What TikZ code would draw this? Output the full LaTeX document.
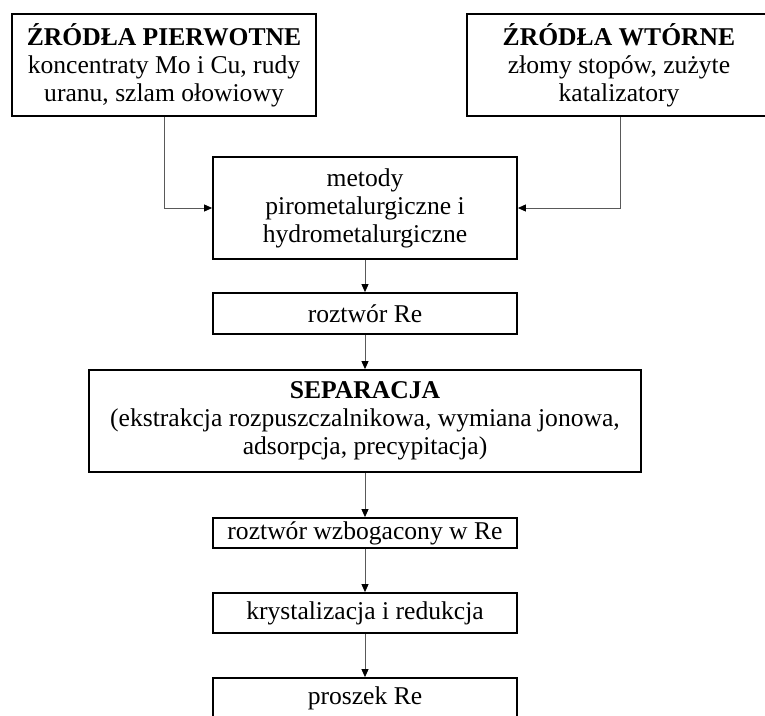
\documentclass[tikz,border=0pt]{standalone}
\usepackage{fontspec}
\setmainfont{Liberation Serif}
\usetikzlibrary{arrows.meta}

\tikzset{
  stagebox/.style={draw=black, line width=1.8pt, minimum width=304pt,
    inner sep=0pt, align=center, font=\fontsize{25.6}{28}\selectfont},
  flow/.style={draw=black!65, line width=0.9pt,
    -{Triangle[length=8pt,width=7pt,fill=black,color=black]}}
}

\begin{document}
\begin{tikzpicture}[x=1pt,y=-1pt]
  \useasboundingbox (0,0) rectangle (765,715);
  \clip (0,0) rectangle (765,715);

  % raw material sources
  \node[stagebox, minimum height=102pt] (prim) at (164,65)
    {\textbf{ŹRÓDŁA PIERWOTNE}\\koncentraty Mo i Cu, rudy\\uranu, szlam ołowiowy};
  \node[stagebox, minimum height=102pt] (sec) at (619,65)
    {\textbf{ŹRÓDŁA WTÓRNE}\\złomy stopów, zużyte\\katalizatory};

  % processing chain
  \node[stagebox, minimum height=102pt] (meth) at (365,208)
    {metody\\pirometalurgiczne i\\hydrometalurgiczne};
  \node[stagebox, minimum height=41pt] (sol) at (365,313.5) {roztwór Re};
  \node[stagebox, minimum height=102pt, minimum width=552pt] (sep) at (365,421)
    {\textbf{SEPARACJA}\\(ekstrakcja rozpuszczalnikowa, wymiana jonowa,\\adsorpcja, precypitacja)};
  \node[stagebox, minimum height=30pt] (rich) at (365,533) {roztwór wzbogacony w Re};
  \node[stagebox, minimum height=40pt] (cryst) at (365,613) {krystalizacja i redukcja};
  \node[stagebox, minimum height=40pt] (powder) at (365,698) {proszek Re};

  % connectors
  \draw[flow] (prim.south) |- (meth.west);
  \draw[flow] (sec.south -| 620,0) |- (meth.east);
  \draw[flow] (meth) -- (sol);
  \draw[flow] (sol) -- (sep);
  \draw[flow] (sep) -- (rich);
  \draw[flow] (rich) -- (cryst);
  \draw[flow] (cryst) -- (powder);
\end{tikzpicture}
\end{document}
